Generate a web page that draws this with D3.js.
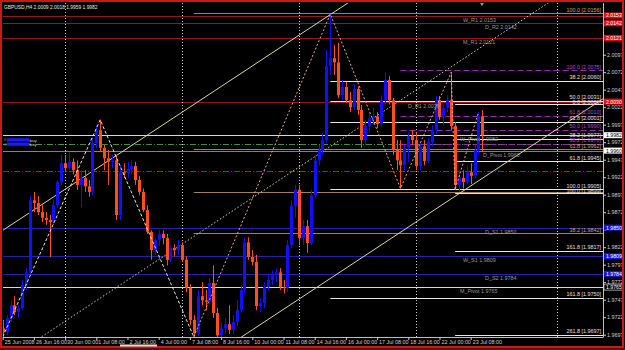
<!DOCTYPE html>
<html>
<meta charset="utf-8">
<head>
<style>
  body { margin: 0; background: #000; }
  text { font-family: "Liberation Sans", Arial, sans-serif; }
  .tick text { fill: #cfcfcf; font-size: 5.4px; }
  .tick line { stroke: #cfcfcf; }
  .domain { stroke: #bdbdbd; }
</style>
</head>
<body>
<div id="viz"></div>
<script src="https://cdnjs.cloudflare.com/ajax/libs/d3/7.8.5/d3.min.js"></script>
<script>
const width = 625, height = 350;
const plot = { left: 3, right: 603, top: 3, bottom: 337 };

// GBPUSD H4 bars, 25 Jun 08:00 .. 23 Jul 2008
const opens = [
1.9706,1.9701,1.9721,1.9739,1.9729,1.9735,1.9768,1.9786,1.9889,1.9885,
1.9872,1.9864,1.9861,1.9858,1.9882,1.9915,1.9942,1.9935,1.9944,1.9932,
1.9911,1.9921,1.9909,1.9901,1.9971,1.9989,1.9964,1.9949,1.9944,1.9946,
1.9868,1.9929,1.9928,1.9934,1.9938,1.9918,1.9901,1.9875,1.9844,1.9818,
1.9832,1.9841,1.9835,1.9804,1.9821,1.9818,1.9825,1.9804,1.9764,1.9718,
1.9699,1.9752,1.9746,1.9744,1.9771,1.9728,1.9696,1.9706,1.9712,1.9704,
1.9715,1.9732,1.9761,1.9829,1.9808,1.9801,1.9738,1.9742,1.9765,1.9775,
1.9784,1.9786,1.9765,1.9764,1.9825,1.9881,1.9904,1.9835,1.9852,1.9828,
1.9896,1.9946,1.9961,1.9975,2.0081,2.0092,2.0086,2.0039,2.0051,2.0032,
2.0022,2.0048,2.0018,1.9975,1.9995,2.0006,2.0009,1.9998,2.0032,2.0061,
2.0032,1.9961,1.9946,1.9939,1.9964,1.9981,1.9975,1.9938,1.9966,1.9945,
1.9972,1.9989,2.0032,2.0009,2.0021,2.0032,1.9995,1.9911,1.9921,1.9915,
1.9929,1.9924,1.9961,2.0009];
const highs = [
1.9718,1.9725,1.9746,1.9752,1.9739,1.9775,1.9792,1.9896,1.9901,1.9895,
1.9882,1.9872,1.9868,1.9889,1.9918,1.9954,1.9954,1.9958,1.9949,1.9946,
1.9932,1.9932,1.9918,1.9978,1.9996,2.0004,1.9968,1.9961,1.9954,1.9954,
1.9939,1.9942,1.9944,1.9946,1.9944,1.9924,1.9906,1.9882,1.9846,1.9835,
1.9846,1.9846,1.9841,1.9825,1.9826,1.9832,1.9829,1.9809,1.9769,1.9725,
1.9761,1.9772,1.9761,1.9778,1.9796,1.9735,1.9715,1.9721,1.9739,1.9725,
1.9746,1.9768,1.9835,1.9836,1.9818,1.9811,1.9749,1.9772,1.9782,1.9789,
1.9792,1.9792,1.9775,1.9832,1.9889,1.9911,1.9911,1.9861,1.9861,1.9904,
1.9954,1.9968,1.9985,2.0104,2.0155,2.0111,2.0114,2.0061,2.0058,2.0044,
2.0054,2.0052,2.0025,2.0004,2.0014,2.0021,2.0015,2.0039,2.0072,2.0066,
2.0035,1.9975,1.9975,1.9968,1.9986,1.9989,1.9986,1.9972,1.9975,1.9978,
1.9996,2.0038,2.0038,2.0026,2.0039,2.0072,2.0001,1.9932,1.9932,1.9938,
1.9942,1.9968,2.0015,2.0018];
const lows = [
1.9694,1.9696,1.9715,1.9725,1.9721,1.9732,1.9761,1.9782,1.9872,1.9868,
1.9858,1.9854,1.9808,1.9854,1.9878,1.9911,1.9929,1.9932,1.9926,1.9904,
1.9879,1.9901,1.9894,1.9896,1.9964,1.9958,1.9932,1.9911,1.9935,1.9861,
1.9861,1.9921,1.9921,1.9926,1.9911,1.9896,1.9872,1.9841,1.9804,1.9811,
1.9824,1.9826,1.9796,1.9801,1.9809,1.9811,1.9801,1.9758,1.9711,1.9694,
1.9695,1.9739,1.9732,1.9739,1.9721,1.9692,1.9692,1.9699,1.9698,1.9698,
1.9709,1.9728,1.9756,1.9804,1.9796,1.9732,1.9729,1.9735,1.9761,1.9768,
1.9772,1.9761,1.9756,1.9758,1.9821,1.9864,1.9825,1.9825,1.9814,1.9825,
1.9892,1.9939,1.9954,1.9971,2.0068,2.0068,2.0035,2.0032,2.0028,2.0015,
2.0018,2.0011,1.9964,1.9968,1.9986,1.9996,1.9992,1.9994,2.0026,2.0026,
1.9954,1.9932,1.9906,1.9932,1.9944,1.9968,1.9932,1.9932,1.9939,1.9942,
1.9966,1.9984,2.0004,1.9996,2.0015,1.9989,1.9904,1.9901,1.9906,1.9912,
1.9912,1.9921,1.9954,1.9959];
const closes = [
1.9701,1.9721,1.9739,1.9729,1.9735,1.9768,1.9786,1.9889,1.9885,1.9872,
1.9864,1.9861,1.9858,1.9882,1.9915,1.9942,1.9935,1.9944,1.9932,1.9911,
1.9921,1.9909,1.9901,1.9971,1.9989,1.9964,1.9949,1.9944,1.9946,1.9868,
1.9929,1.9928,1.9934,1.9938,1.9918,1.9901,1.9875,1.9844,1.9818,1.9832,
1.9841,1.9835,1.9804,1.9821,1.9818,1.9825,1.9804,1.9764,1.9718,1.9699,
1.9752,1.9746,1.9744,1.9771,1.9728,1.9696,1.9706,1.9712,1.9704,1.9715,
1.9732,1.9761,1.9829,1.9808,1.9801,1.9738,1.9742,1.9765,1.9775,1.9784,
1.9786,1.9765,1.9764,1.9825,1.9881,1.9904,1.9835,1.9852,1.9828,1.9896,
1.9946,1.9961,1.9975,2.0081,2.0092,2.0086,2.0039,2.0051,2.0032,2.0022,
2.0048,2.0018,1.9975,1.9995,2.0006,2.0009,1.9998,2.0032,2.0061,2.0032,
1.9961,1.9946,1.9939,1.9964,1.9981,1.9975,1.9938,1.9966,1.9945,1.9972,
1.9989,2.0032,2.0009,2.0021,2.0032,1.9995,1.9911,1.9921,1.9915,1.9929,
1.9924,1.9961,2.0009,1.9982];

const dateLabels = ["25 Jun 2008","26 Jun 16:00","30 Jun 00:00","1 Jul 08:00","2 Jul 16:00",
  "4 Jul 00:00","7 Jul 08:00","8 Jul 16:00","10 Jul 00:00","11 Jul 08:00","14 Jul 16:00",
  "16 Jul 00:00","17 Jul 08:00","18 Jul 16:00","22 Jul 00:00","23 Jul 08:00"];
const dateBars = [0,8,16,24,32,40,48,56,64,72,80,88,96,104,112,120];
const priceTicks = [1.9697,1.9722,1.9747,1.9772,1.9797,1.9822,1.9847,1.9872,1.9897,
  1.9922,1.9947,1.9972,1.9997,2.0022,2.0047,2.0072,2.0097];

// week separators (and the shift line)
const sepBars = [16, 46, 76, 106, 142];

// pivot levels
const pivotNames = ["W_R1","D_R2","M_R1","D_R1","W_Pivot","D_Pivot","D_S1","W_S1","D_S2","M_Pivot"];
const pivotPrices = [2.0153,2.0142,2.0121,2.0030,1.9982,1.9960,1.9850,1.9809,1.9784,1.9765];

// fibonacci levels: label, price, first bar, set
const fibText = ["100.0","61.8","50.0","38.2",
  "38.2","50.0","61.8","100.0","161.8",
  "100.0","61.8","50.0","38.2",
  "0.0","38.2","61.8","100.0","161.8","261.8"];
const fibPrices = [2.0156,1.9962,1.9901,1.9842,
  2.0060,2.0031,2.0001,1.9905,1.9750,
  2.0075,2.0010,1.9990,1.9970,
  2.0026,1.9977,1.9945,1.9899,1.9817,1.9697];
const fibStart = [49,49,49,49, 84,84,84,84,84, 102,102,102,102, 116,116,116,116,116,116];
const fibSet = ["tan","tan","tan","tan","w","w","w","w","w","p","p","p","p","w2","w2","w2","w2","w2","w2"];

// zigzag turning points
const zigBars = [0, 25, 49, 84, 102, 115, 116, 122];
const zigPrices = [1.9694, 2.0004, 1.9694, 2.0155, 1.9906, 2.0072, 1.9904, 2.0015];

// equidistant channel (two anchor bars, upper/lower rails)
const chanBars = [0, 85];
const chanUpper = [1.9846, 2.0158];
const chanLower = [1.9469, 1.9781];

// open trades (entry and stop loss)
const orderPrice = 1.9969;
const stopPrice = 1.9931;

const x = d3.scaleLinear().domain([0, 123]).range([2.7, 2.7 + 3.9 * 123]);
const y = d3.scaleLinear().domain([1.9697, 2.0097]).range([334.7, 54.7]);
const fmt = d3.format(".4f");

const svg = d3.select("#viz").append("svg")
    .attr("width", width).attr("height", height)
    .style("background", "#000");

svg.append("clipPath").attr("id", "clip")
  .append("rect").attr("x", plot.left).attr("y", plot.top)
  .attr("width", plot.right - plot.left).attr("height", plot.bottom - plot.top);

const g = svg.append("g").attr("clip-path", "url(#clip)");

// horizontal pivot lines
function pcol(n) {
    if (n == "D_Pivot") return "#6f8f6f";
    if (n.indexOf("Pivot") >= 0) return "#d8d8d8";
    return n.indexOf("_R") >= 0 ? "#8e1b1b" : "#2222a8";
}
g.selectAll(".pivot").data(pivotNames).enter().append("line")
    .attr("x1", plot.left).attr("x2", plot.right)
    .attr("y1", (d, i) => Math.round(y(pivotPrices[i])) + 0.5)
    .attr("y2", (d, i) => Math.round(y(pivotPrices[i])) + 0.5)
    .attr("stroke", d => pcol(d)).attr("stroke-width", 1);

// order / stop lines
g.append("line").attr("x1", plot.left).attr("x2", plot.right)
    .attr("y1", Math.round(y(orderPrice)) + 0.5).attr("y2", Math.round(y(orderPrice)) + 0.5)
    .attr("stroke", "#3f8f3f").attr("stroke-dasharray", "6,2,1,2");
g.append("line").attr("x1", plot.left).attr("x2", plot.right)
    .attr("y1", Math.round(y(stopPrice)) + 0.5).attr("y2", Math.round(y(stopPrice)) + 0.5)
    .attr("stroke", "#b02020").attr("stroke-dasharray", "6,2,1,2");

// fibo lines
const fibColor = { tan: "#a5805a", w: "#e6e6e6", p: "#8e2fa8", w2: "#e6e6e6" };
const fibTextColor = { tan: "#c8a57a", w: "#e0e0e0", p: "#b04ad0", w2: "#e0e0e0" };
g.selectAll(".fib").data(fibPrices).enter().append("line")
    .attr("x1", (d, i) => x(fibStart[i])).attr("x2", plot.right)
    .attr("y1", d => Math.round(y(d)) + 0.5).attr("y2", d => Math.round(y(d)) + 0.5)
    .attr("stroke", (d, i) => fibColor[fibSet[i]])
    .attr("stroke-dasharray", (d, i) => fibSet[i] == "p" ? "6,3" : null);

// week separators
g.selectAll(".sep").data(sepBars).enter().append("line")
    .attr("x1", d => Math.round(x(d)) + 0.5).attr("x2", d => Math.round(x(d)) + 0.5)
    .attr("y1", plot.top).attr("y2", plot.bottom)
    .attr("stroke", "#d0d0d0").attr("stroke-dasharray", "1,2");

// channel
function rail(p) {
    const f = d3.scaleLinear().domain(chanBars).range(p);
    return [[x(-2), y(f(-2))], [x(170), y(f(170))]];
}
const mid = [(chanUpper[0] + chanLower[0]) / 2, (chanUpper[1] + chanLower[1]) / 2];
[chanUpper, chanLower].forEach(p => {
    g.append("path").attr("d", d3.line()(rail(p)))
        .attr("stroke", "#d9d79a").attr("fill", "none");
});
g.append("path").attr("d", d3.line()(rail(mid)))
    .attr("stroke", "#d9d79a").attr("fill", "none").attr("stroke-dasharray", "1.5,2");

// candles
const bull = "#1010ff", bear = "#ff4f1a";
const idx = d3.range(opens.length);
const candles = g.selectAll(".candle").data(idx).enter().append("g");
candles.append("line")
    .attr("x1", i => Math.round(x(i)) + 0.5).attr("x2", i => Math.round(x(i)) + 0.5)
    .attr("y1", i => y(highs[i])).attr("y2", i => y(lows[i]))
    .attr("stroke", i => closes[i] >= opens[i] ? bull : bear);
candles.append("rect")
    .attr("x", i => Math.round(x(i)) - 1)
    .attr("width", 3)
    .attr("y", i => y(Math.max(opens[i], closes[i])))
    .attr("height", i => Math.max(1, Math.abs(y(opens[i]) - y(closes[i]))))
    .attr("fill", i => closes[i] >= opens[i] ? bull : bear);

// zigzag
const zz = zigBars.map((b, i) => [x(b), y(zigPrices[i])]);
g.append("path").attr("d", d3.line()(zz.slice(0, 3)))
    .attr("stroke", "#e8e8e8").attr("fill", "none").attr("stroke-dasharray", "3,2");
g.append("path").attr("d", d3.line()(zz.slice(2)))
    .attr("stroke", "#e6a890").attr("fill", "none").attr("stroke-dasharray", "2,2");

// fibo labels (a tan label that sits on top of another set's level is hidden, as on screen)
const fibShown = idx.slice(0, fibPrices.length).filter(i =>
    !(fibSet[i] == "tan" && fibPrices.some((p, j) => fibSet[j] != "tan" && Math.abs(p - fibPrices[i]) < 0.0005)));
// stack labels top-down so close levels don't print over each other
const labY = {};
let lastY = -99;
fibShown.slice().sort((a, b) => y(fibPrices[a]) - y(fibPrices[b])).forEach(i => {
    let ly = y(fibPrices[i]) - 1.5;
    if (ly - lastY < 5) ly = lastY + 5;
    labY[i] = ly;
    lastY = ly;
});
g.selectAll(".fibl").data(fibShown).enter().append("text")
    .attr("x", plot.right - 2).attr("y", i => labY[i])
    .attr("text-anchor", "end")
    .attr("font-size", 5.4)
    .attr("fill", i => fibTextColor[fibSet[i]])
    .text(i => fibText[i] + "   [" + fmt(fibPrices[i]) + "]");

// pivot labels
const pivotLabelX = { W_R1: 463, D_R2: 485, M_R1: 463, D_R1: 408, W_Pivot: 460,
    D_Pivot: 483, D_S1: 485, W_S1: 463, D_S2: 485, M_Pivot: 460 };
g.selectAll(".pl").data(pivotNames).enter().append("text")
    .attr("x", d => pivotLabelX[d])
    .attr("y", (d, i) => y(pivotPrices[i]) + 6)
    .attr("font-size", 5.4).attr("fill", "#9a9a9a")
    .text((d, i) => d + " " + fmt(pivotPrices[i]));

// trade markers
[0, 1].forEach(k => {
    const yy = y(orderPrice) - 6 + k * 4.2;
    g.append("rect").attr("x", 7).attr("y", yy).attr("width", 22).attr("height", 3.2).attr("fill", "#1a1aff");
    g.append("text").attr("x", 4).attr("y", yy + 3).attr("font-size", 4).attr("fill", "#d0d0d0").text("#");
    g.append("text").attr("x", 29.5).attr("y", yy + 3.2).attr("font-size", 4.4).attr("fill", "#d0d0d0").text("buy");
});

// axes (tick labels hidden under a price tag are not drawn)
const visTicks = priceTicks.filter(t => !pivotPrices.some(p => Math.abs(y(p) - y(t)) < 4.2));
svg.append("g").attr("transform", "translate(" + plot.right + ",0)")
    .call(d3.axisRight(y).tickValues(priceTicks).tickSize(3).tickPadding(1)
        .tickFormat(t => visTicks.indexOf(t) >= 0 ? fmt(t) : ""))
    .call(a => a.select(".domain").attr("d", "M0.5," + plot.top + "V" + plot.bottom));

const xAxis = svg.append("g").attr("transform", "translate(0," + plot.bottom + ")")
    .call(d3.axisBottom(x).tickValues(dateBars).tickFormat((d, i) => dateLabels[i]).tickSize(3).tickPadding(1))
    .call(a => a.select(".domain").attr("d", "M" + plot.left + ",0.5H" + (plot.right + 0.5)));
xAxis.selectAll(".tick text").attr("text-anchor", "start").attr("dx", 1.5).attr("dy", "0.6em");

// colored price tags on the right scale
function tagFill(d) {
    if (d == "W_Pivot" || d == "D_Pivot") return "#ffffff";
    if (d == "M_Pivot") return "#000000";
    return d.indexOf("_R") >= 0 ? "#e01010" : "#1616d8";
}
const tags = svg.selectAll(".tag").data(pivotNames).enter().append("g")
    .attr("transform", (d, i) => "translate(" + (plot.right + 1) + "," + y(pivotPrices[i]) + ")");
tags.append("rect").attr("x", 0).attr("y", -3).attr("width", 19).attr("height", 6)
    .attr("fill", d => tagFill(d))
    .attr("stroke", d => d == "M_Pivot" ? "#ffffff" : "none").attr("stroke-width", 0.6);
tags.append("text").attr("x", 2).attr("y", 1.9)
    .attr("font-size", 5.2)
    .attr("fill", d => (d == "W_Pivot" || d == "D_Pivot") ? "#000" : "#fff")
    .text((d, i) => fmt(pivotPrices[i]));

// title
svg.append("text").attr("x", 4).attr("y", 9).attr("font-size", 4.9).attr("fill", "#e8e8e8")
    .text("GBPUSD,H4  " + [opens[123], highs[123], lows[123], closes[123]].map(fmt).join(" "));

// chart shift marker
svg.append("path").attr("d", "M480,3L484,3L482,6Z").attr("fill", "#9a9a9a");

// window frame
svg.append("rect").attr("x", 1).attr("y", 1).attr("width", 622).attr("height", 346)
    .attr("fill", "none").attr("stroke", "#c41a1a").attr("stroke-width", 2);
svg.append("line").attr("x1", 0).attr("x2", 625).attr("y1", 349).attr("y2", 349)
    .attr("stroke", "#8a1010").attr("stroke-width", 1.5);
svg.append("rect").attr("x", 120).attr("y", 344.5).attr("width", 37).attr("height", 2).attr("fill", "#e0e0e0");
</script>
</body>
</html>
